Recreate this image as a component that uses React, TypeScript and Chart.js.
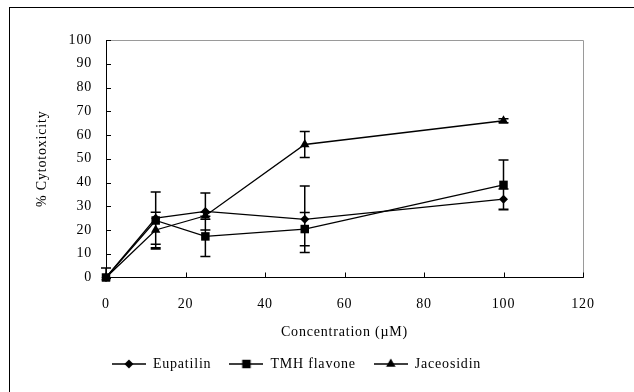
import React, { useEffect, useRef } from "react";
import { Chart, registerables } from "chart.js";

Chart.register(...registerables);

const concentrations = [0, 12.5, 25, 50, 100];
const eupatilin = [0, 25, 27.8, 24.5, 33];
const eupatilinErr = [0, 11, 7.8, 14, 4.3];
const tmhFlavone = [0, 24, 17.3, 20.4, 39];
const tmhFlavoneErr = [4, 12, 8.5, 7, 10.5];
const jaceosidin = [0, 20, 26, 56, 66];
const jaceosidinErr = [0, 7.5, 1.5, 5.5, 0.8];
const seriesNames = ["Eupatilin", "TMH flavone", "Jaceosidin"];
const xTitle = "Concentration (\u00b5M)";
const yTitle = "% Cytotoxicity";

const FONT = "'Liberation Serif', 'Times New Roman', serif";
const FS = 14;
const seriesValues = [eupatilin, tmhFlavone, jaceosidin];
const seriesErrors = [eupatilinErr, tmhFlavoneErr, jaceosidinErr];
const markers = ["rectRot", "rect", "triangle"];
const markerRadius = [4.5, 6, 5.5];

function legendIcon(style: string, r: number): HTMLCanvasElement {
  const c = document.createElement("canvas");
  c.width = 34;
  c.height = 14;
  const ctx = c.getContext("2d")!;
  ctx.strokeStyle = "#000";
  ctx.lineWidth = 1.3;
  ctx.beginPath();
  ctx.moveTo(0, 7);
  ctx.lineTo(34, 7);
  ctx.stroke();
  ctx.fillStyle = "#000";
  ctx.beginPath();
  const cx = 17, cy = 7;
  if (style === "rectRot") {
    ctx.moveTo(cx, cy - r);
    ctx.lineTo(cx + r, cy);
    ctx.lineTo(cx, cy + r);
    ctx.lineTo(cx - r, cy);
  } else if (style === "rect") {
    const s = r * Math.SQRT1_2;
    ctx.rect(cx - s, cy - s, 2 * s, 2 * s);
  } else {
    ctx.moveTo(cx, cy - r);
    ctx.lineTo(cx + r * 0.866, cy + r * 0.5);
    ctx.lineTo(cx - r * 0.866, cy + r * 0.5);
  }
  ctx.closePath();
  ctx.fill();
  return c;
}

function setSpacing(chart: any) {
  try {
    (chart.ctx as any).letterSpacing = "0.8px";
  } catch (e) {}
}

const decorPlugin = {
  id: "decor",
  beforeInit: setSpacing,
  beforeUpdate: setSpacing,
  afterLayout(chart: any) {
    if (chart.legend) {
      chart.legend.left += 5;
      chart.legend.right += 5;
    }
  },
  beforeDraw(chart: any) {
    setSpacing(chart);
    const { ctx, width, height } = chart;
    ctx.save();
    ctx.fillStyle = "#fff";
    ctx.fillRect(0, 0, width, height);
    ctx.strokeStyle = "#000";
    ctx.lineWidth = 1;
    ctx.strokeRect(9.5, 7.5, width + 20, height + 20);
    ctx.restore();
  },
  beforeDatasetsDraw(chart: any) {
    const { ctx, chartArea: a, scales } = chart;
    const x = scales.x, y = scales.y;
    ctx.save();
    ctx.strokeStyle = "#9a9a9a";
    ctx.lineWidth = 1;
    ctx.beginPath();
    ctx.moveTo(a.left, a.top + 0.5);
    ctx.lineTo(a.right + 0.5, a.top + 0.5);
    ctx.lineTo(a.right + 0.5, a.bottom);
    ctx.stroke();
    ctx.strokeStyle = "#000";
    ctx.beginPath();
    for (const t of y.ticks) {
      const py = Math.round(y.getPixelForValue(t.value)) + 0.5;
      ctx.moveTo(a.left, py);
      ctx.lineTo(a.left + 5, py);
    }
    for (const t of x.ticks) {
      const px = Math.round(x.getPixelForValue(t.value)) + 0.5;
      ctx.moveTo(px, a.bottom);
      ctx.lineTo(px, a.bottom - 5);
    }
    ctx.stroke();
    ctx.beginPath();
    ctx.rect(a.left - 20, a.top, a.right - a.left + 40, a.bottom - a.top);
    ctx.clip();
    ctx.lineWidth = 1.5;
    ctx.beginPath();
    seriesValues.forEach((vals, i) => {
      const errs = seriesErrors[i];
      vals.forEach((v, j) => {
        const e = errs[j];
        if (!e) return;
        const px = x.getPixelForValue(concentrations[j]);
        const hi = y.getPixelForValue(v + e);
        const lo = y.getPixelForValue(v - e);
        ctx.moveTo(px, hi);
        ctx.lineTo(px, lo);
        ctx.moveTo(px - 5, hi);
        ctx.lineTo(px + 5, hi);
        ctx.moveTo(px - 5, lo);
        ctx.lineTo(px + 5, lo);
      });
    });
    ctx.stroke();
    ctx.restore();
  },
};

export default function App() {
  const ref = useRef<HTMLCanvasElement>(null);
  useEffect(() => {
    document.body.style.margin = "0";
    const icons = markers.map((m, i) => legendIcon(m, markerRadius[i]));
    const chart = new Chart(ref.current!, {
      type: "line",
      data: {
        datasets: seriesNames.map((name, i) => ({
          label: name,
          data: concentrations.map((c, j) => ({ x: c, y: seriesValues[i][j] })),
          borderColor: "#000",
          backgroundColor: "#000",
          borderWidth: 1.3,
          pointStyle: markers[i] as any,
          pointRadius: markerRadius[i],
          pointBorderWidth: 0,
          pointBackgroundColor: "#000",
          tension: 0,
          clip: false as any,
        })),
      },
      options: {
        animation: false,
        responsive: false,
        devicePixelRatio: 1,
        layout: { padding: { left: 0, top: 40, right: 51, bottom: 11 } },
        plugins: {
          tooltip: { enabled: false },
          legend: {
            position: "bottom",
            labels: {
              usePointStyle: true,
              pointStyleWidth: 34,
              padding: 18,
              color: "#000",
              font: { family: FONT, size: FS },
              generateLabels: (c: any) =>
                Chart.defaults.plugins.legend.labels
                  .generateLabels(c)
                  .map((l: any, i: number) => ({ ...l, pointStyle: icons[i] })),
            },
          },
        },
        scales: {
          x: {
            type: "linear",
            min: 0,
            max: 120,
            ticks: { stepSize: 20, color: "#000", padding: 18, font: { family: FONT, size: FS } },
            grid: { display: false, drawTicks: false },
            border: { display: true, color: "#000", width: 1 },
            title: {
              display: true,
              text: xTitle,
              color: "#000",
              font: { family: FONT, size: FS },
              padding: { top: 0, bottom: -1.9 },
            },
            afterFit: (s: any) => {
              s.height = 61.5;
            },
          },
          y: {
            type: "linear",
            min: 0,
            max: 100,
            ticks: { stepSize: 10, color: "#000", padding: 14, font: { family: FONT, size: FS } },
            grid: { display: false, drawTicks: false },
            border: { display: true, color: "#000", width: 1 },
            title: {
              display: true,
              text: yTitle,
              color: "#000",
              font: { family: FONT, size: FS },
              padding: { top: 34, bottom: 0 },
            },
            afterFit: (s: any) => {
              s.width = 106;
            },
          },
        },
      },
      plugins: [decorPlugin],
    });
    return () => chart.destroy();
  }, []);
  return (
    <div style={{ position: "fixed", left: 0, top: 0, width: 634, height: 392 }}>
      <canvas ref={ref} width={634} height={392} style={{ width: 634, height: 392 }} />
    </div>
  );
}
